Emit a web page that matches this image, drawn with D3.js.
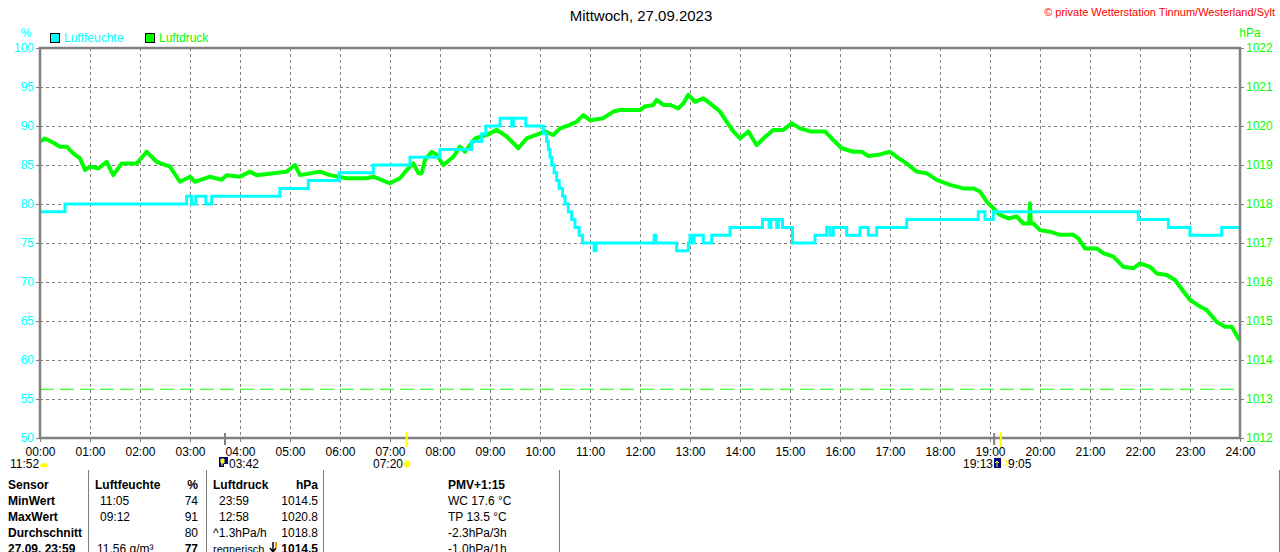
<!DOCTYPE html>
<html lang="de">
	<head>
		<meta charset="utf-8">
		<title>Mittwoch, 27.09.2023</title>
		<script type="text/javascript" src="https://cdn.jsdelivr.net/npm/d3@7"></script>
		<style type="text/css">
			body { margin: 0; background: #fff; }
			svg { display: block; font-family: "Liberation Sans", Arial, sans-serif; }
			.grid line { stroke: #808080; stroke-width: 1; stroke-dasharray: 3,3; }
			.lbl { font-size: 12px; }
			.tbl { font-size: 12px; fill: #000; }
			.b { font-weight: bold; }
		</style>
	</head>
	<body>
		<script type="text/javascript">

			// Luftfeuchte (%), Stufen: Zeitpunkt ab dem der Wert gilt
			var humTimes = ["00:00","00:30","02:56","03:02","03:07","03:19","03:26","04:48","05:22","05:59",
							"06:40","07:24","08:00","08:38","08:50","08:55","09:12","09:26","09:28","09:43",
							"10:04","10:08","10:10","10:12","10:14","10:17","10:20","10:23","10:27","10:30",
							"10:34","10:38","10:42","10:47","10:51","11:05","11:07","12:17","12:19","12:44",
							"12:58","13:00","13:03","13:05","13:16","13:26","13:48","14:27","14:35","14:37",
							"14:44","14:46","14:51","15:03","15:30","15:44","15:48","15:52","16:08","16:24",
							"16:34","16:44","17:20","18:46","18:54","19:04","21:58","22:34","23:00","23:38","24:00"];
			var humValues = [79,80,81,80,81,80,81,82,83,84,
							 85,86,87,88,89,90,91,90,91,90,
							 89,88,87,86,85,84,83,82,81,80,
							 79,78,77,76,75,74,75,76,75,74,
							 75,76,75,76,75,76,77,78,77,78,
							 77,78,77,75,76,77,76,77,76,77,
							 76,77,78,79,78,79,78,77,76,77,77];

			// Luftdruck (hPa)
			var presTimes = ["00:00","00:06","00:16","00:24","00:32","00:40","00:48","00:54","01:00","01:10",
							 "01:20","01:28","01:38","01:56","02:08","02:20","02:36","02:48","03:00","03:06",
							 "03:24","03:38","03:44","04:00","04:12","04:20","04:40","04:56","05:06","05:12",
							 "05:36","05:48","06:08","06:32","06:40","07:00","07:12","07:20","07:28","07:34",
							 "07:38","07:42","07:50","07:56","08:04","08:16","08:24","08:30","08:42","08:56",
							 "09:08","09:20","09:34","09:44","10:00","10:06","10:16","10:24","10:36","10:44",
							 "10:52","11:00","11:16","11:28","11:36","12:00","12:06","12:16","12:20","12:28",
							 "12:36","12:46","12:52","12:58","13:06","13:16","13:24","13:36","13:44","13:52",
							 "14:00","14:10","14:20","14:28","14:40","14:52","15:02","15:12","15:24","15:42",
							 "15:52","16:02","16:16","16:26","16:34","16:46","17:00","17:08","17:20","17:32",
							 "17:44","17:56","18:12","18:28","18:40","18:48","18:56","19:04","19:12","19:22",
							 "19:32","19:40","19:47","19:48","19:49","19:52","20:00","20:12","20:24","20:40",
							 "20:46","20:54","21:08","21:16","21:28","21:40","21:52","22:00","22:12","22:20",
							 "22:32","22:42","22:48","23:00","23:12","23:20","23:32","23:42","23:50","23:58","24:00"];
			var presValues = [1019.60,1019.68,1019.57,1019.47,1019.47,1019.30,1019.17,1018.87,1018.96,1018.91,
							  1019.08,1018.74,1019.04,1019.04,1019.34,1019.08,1018.96,1018.57,1018.70,1018.57,
							  1018.70,1018.62,1018.74,1018.70,1018.83,1018.74,1018.79,1018.83,1019.00,1018.74,
							  1018.83,1018.74,1018.66,1018.66,1018.70,1018.53,1018.66,1018.87,1019.04,1018.79,
							  1018.79,1019.13,1019.34,1019.26,1019.00,1019.21,1019.47,1019.34,1019.68,1019.77,
							  1019.90,1019.73,1019.43,1019.68,1019.81,1019.86,1019.77,1019.94,1020.03,1020.11,
							  1020.28,1020.15,1020.20,1020.37,1020.41,1020.41,1020.50,1020.54,1020.67,1020.54,
							  1020.54,1020.45,1020.58,1020.80,1020.62,1020.71,1020.58,1020.37,1020.11,1019.86,
							  1019.68,1019.86,1019.51,1019.68,1019.90,1019.90,1020.07,1019.94,1019.86,1019.86,
							  1019.64,1019.43,1019.34,1019.34,1019.23,1019.26,1019.34,1019.21,1019.04,1018.83,
							  1018.79,1018.62,1018.49,1018.40,1018.40,1018.32,1018.06,1017.89,1017.72,1017.63,
							  1017.68,1017.50,1017.50,1018.02,1017.50,1017.50,1017.33,1017.29,1017.21,1017.21,
							  1017.12,1016.86,1016.86,1016.74,1016.65,1016.39,1016.35,1016.48,1016.39,1016.22,
							  1016.18,1016.05,1015.88,1015.54,1015.37,1015.28,1014.98,1014.85,1014.85,1014.56,1014.50];

			var normalPressure = 1013.25;

			var hourLabels = ["00:00","01:00","02:00","03:00","04:00","05:00","06:00","07:00","08:00","09:00",
							  "10:00","11:00","12:00","13:00","14:00","15:00","16:00","17:00","18:00","19:00",
							  "20:00","21:00","22:00","23:00","24:00"];
			var humTicks = [50, 55, 60, 65, 70, 75, 80, 85, 90, 95, 100];
			var presTicks = [1012, 1013, 1014, 1015, 1016, 1017, 1018, 1019, 1020, 1021, 1022];

			// Sonne / Mond
			var moonTimes = ["03:42", "19:05"];
			var sunTimes = ["07:20", "19:13"];

			// Tabelle
			var rowLabels = ["Sensor", "MinWert", "MaxWert", "Durchschnitt", "27.09. 23:59"];
			var humCol = ["Luftfeuchte", "11:05", "09:12", "", "11.56 g/m³"];
			var humVals = ["%", "74", "91", "80", "77"];
			var presCol = ["Luftdruck", "23:59", "12:58", "^1.3hPa/h", "regnerisch"];
			var presVals = ["hPa", "1014.5", "1020.8", "1018.8", "1014.5"];
			var extraCol = ["PMV+1:15", "WC 17.6 °C", "TP 13.5 °C", "-2.3hPa/3h", "-1.0hPa/1h"];

			function toHours(t) {
				var p = t.split(":");
				return +p[0] + p[1] / 60;
			}

			var W = 1280, H = 552;
			var plotL = 40, plotR = 1240, plotT = 48, plotB = 438;

			var xScale = d3.scaleLinear().domain([0, 24]).range([plotL, plotR]);
			var yHum = d3.scaleLinear().domain([50, 100]).range([plotB, plotT]);
			var yPres = d3.scaleLinear().domain([1012, 1022]).range([plotB, plotT]);

			var cyan = "#00ffff", green = "#00ff00", grey = "#808080";

			var svg = d3.select("body")
						.append("svg")
						.attr("width", W)
						.attr("height", H);

			// Titel
			svg.append("text")
			   .attr("x", 641).attr("y", 21)
			   .attr("text-anchor", "middle")
			   .attr("font-size", "15px")
			   .text("Mittwoch, 27.09.2023");

			svg.append("text")
			   .attr("x", 1275).attr("y", 16)
			   .attr("text-anchor", "end")
			   .attr("font-size", "11px")
			   .attr("fill", "#ff0000")
			   .text("© private Wetterstation Tinnum/Westerland/Sylt");

			// Einheiten + Legende
			svg.append("text").attr("class", "lbl").attr("x", 26).attr("y", 37)
			   .attr("text-anchor", "middle").attr("fill", cyan).text("%");
			svg.append("text").attr("class", "lbl").attr("x", 1250).attr("y", 37)
			   .attr("text-anchor", "middle").attr("fill", green).text("hPa");

			var legend = [["Luftfeuchte", cyan, 50], ["Luftdruck", green, 145]];
			legend.forEach(function(d) {
				svg.append("rect")
				   .attr("x", d[2] + 0.5).attr("y", 33.5)
				   .attr("width", 9).attr("height", 9)
				   .attr("fill", d[1]).attr("stroke", "#000");
				svg.append("text").attr("class", "lbl")
				   .attr("x", d[2] + 14).attr("y", 42)
				   .attr("fill", d[1]).text(d[0]);
			});

			// Gitter
			var grid = svg.append("g").attr("class", "grid");
			grid.selectAll("line.v")
				.data(d3.range(1, 24))
				.enter().append("line")
				.attr("x1", function(d) { return xScale(d) + 0.5; })
				.attr("x2", function(d) { return xScale(d) + 0.5; })
				.attr("y1", plotT).attr("y2", plotB);
			grid.selectAll("line.h")
				.data(humTicks.slice(1, -1))
				.enter().append("line")
				.attr("x1", plotL).attr("x2", plotR)
				.attr("y1", function(d) { return Math.round(yHum(d)) + 0.5; })
				.attr("y2", function(d) { return Math.round(yHum(d)) + 0.5; });

			// Normaldruck
			svg.append("line")
			   .attr("x1", plotL).attr("x2", plotR)
			   .attr("y1", yPres(normalPressure)).attr("y2", yPres(normalPressure))
			   .attr("stroke", green).attr("stroke-width", 1)
			   .attr("stroke-dasharray", "14,6");

			// Achsen
			var axL = svg.append("g")
						 .attr("transform", "translate(" + plotL + ",0)")
						 .call(d3.axisLeft(yHum).tickValues(humTicks).tickFormat(d3.format("d"))
						 .tickSize(4).tickPadding(2));
			axL.selectAll("text").attr("fill", cyan).attr("font-size", "12px").attr("font-family", null);
			var axR = svg.append("g")
						 .attr("transform", "translate(" + plotR + ",0)")
						 .call(d3.axisRight(yPres).tickValues(presTicks).tickFormat(d3.format("d"))
						 .tickSize(4).tickPadding(2));
			axR.selectAll("text").attr("fill", green).attr("font-size", "12px").attr("font-family", null);
			var axB = svg.append("g")
						 .attr("transform", "translate(0," + plotB + ")")
						 .call(d3.axisBottom(xScale).tickValues(hourLabels.map(toHours))
						 .tickFormat(function(d, i) { return hourLabels[i]; })
						 .tickSize(4).tickPadding(5));
			axB.selectAll("text").attr("fill", "#000").attr("font-size", "12px").attr("font-family", null);
			svg.selectAll(".domain").remove();
			svg.selectAll(".tick line").attr("stroke", grey);

			// Linien
			var presLine = d3.line()
							 .x(function(d, i) { return xScale(toHours(presTimes[i])); })
							 .y(function(d) { return yPres(d); });
			svg.append("path")
			   .attr("d", presLine(presValues))
			   .attr("fill", "none")
			   .attr("stroke", green)
			   .attr("stroke-width", 4)
			   .attr("stroke-linejoin", "round");

			var humLine = d3.line()
							.curve(d3.curveStepAfter)
							.x(function(d, i) { return xScale(toHours(humTimes[i])); })
							.y(function(d) { return yHum(d); });
			svg.append("path")
			   .attr("d", humLine(humValues))
			   .attr("fill", "none")
			   .attr("stroke", cyan)
			   .attr("stroke-width", 3);

			// Rahmen
			svg.append("rect")
			   .attr("x", plotL).attr("y", plotT)
			   .attr("width", plotR - plotL).attr("height", plotB - plotT)
			   .attr("fill", "none")
			   .attr("stroke", grey)
			   .attr("stroke-width", 2.5);

			// Sonne / Mond Markierungen
			svg.selectAll("line.moon")
			   .data(moonTimes).enter().append("line")
			   .attr("x1", function(d) { return xScale(toHours(d)); })
			   .attr("x2", function(d) { return xScale(toHours(d)); })
			   .attr("y1", 433).attr("y2", 445)
			   .attr("stroke", grey).attr("stroke-width", 2);
			svg.selectAll("line.sun")
			   .data(sunTimes).enter().append("line")
			   .attr("x1", function(d) { return xScale(toHours(d)); })
			   .attr("x2", function(d) { return xScale(toHours(d)); })
			   .attr("y1", 432).attr("y2", 447)
			   .attr("stroke", "#ffff00").attr("stroke-width", 2);

			var evTxt = svg.append("g").attr("font-size", "12px");
			// Mond-Kulmination
			evTxt.append("text").attr("x", 10).attr("y", 468).text("11:52");
			svg.append("path")
			   .attr("d", "M40,467 a4,4 0 0 1 8,0 z")
			   .attr("fill", "#ffff00");
			// Mondaufgang
			svg.append("rect").attr("x", 219).attr("y", 457).attr("width", 9).attr("height", 10).attr("fill", "#000080");
			svg.append("path").attr("d", "M221,459 h3 v4 h-3 z M222,463 v3").attr("fill", "#ffff00").attr("stroke", "#ffff00");
			svg.append("rect").attr("x", 224).attr("y", 464).attr("width", 4).attr("height", 3).attr("fill", "#ffffff");
			evTxt.append("text").attr("x", 229).attr("y", 468).text(moonTimes[0]);
			// Sonnenaufgang
			evTxt.append("text").attr("x", 373).attr("y", 468).text(sunTimes[0]);
			svg.append("circle").attr("cx", 407).attr("cy", 464).attr("r", 3.5).attr("fill", "#ffff00");
			// Sonnenuntergang / Monduntergang
			evTxt.append("text").attr("x", 993).attr("y", 468).attr("text-anchor", "end").text(sunTimes[1]);
			svg.append("rect").attr("x", 994).attr("y", 458).attr("width", 7).attr("height", 10).attr("fill", "#000080");
			svg.append("path").attr("d", "M997,467 v-5 M995,463 l2,-2 l2,2").attr("fill", "none").attr("stroke", "#ffff00");
			svg.append("rect").attr("x", 1001.5).attr("y", 460.5).attr("width", 5).attr("height", 5)
			   .attr("fill", "none").attr("stroke", "#ffff66");
			evTxt.append("text").attr("x", 1008).attr("y", 468).text(moonTimes[1].slice(1));

			// Tabelle
			var sepX = [88.5, 206.5, 323.5, 559.5, 1279.5];
			svg.selectAll("line.sep")
			   .data(sepX).enter().append("line")
			   .attr("x1", function(d) { return d; }).attr("x2", function(d) { return d; })
			   .attr("y1", 470).attr("y2", H)
			   .attr("stroke", grey).attr("stroke-width", 1);

			var rowY = function(i) { return 489 + i * 16; };
			var tbl = svg.append("g").attr("class", "tbl");

			tbl.selectAll("text.r").data(rowLabels).enter().append("text")
			   .attr("class", "b").attr("x", 8).attr("y", function(d, i) { return rowY(i); })
			   .text(function(d) { return d; });

			tbl.selectAll("text.hc").data(humCol).enter().append("text")
			   .attr("class", function(d, i) { return i === 0 ? "b" : null; })
			   .attr("x", function(d, i) { return i === 0 ? 95 : (i === 4 ? 97 : 100); })
			   .attr("y", function(d, i) { return rowY(i); })
			   .text(function(d) { return d; });
			tbl.selectAll("text.hv").data(humVals).enter().append("text")
			   .attr("class", function(d, i) { return (i === 0 || i === 4) ? "b" : null; })
			   .attr("x", 198).attr("text-anchor", "end")
			   .attr("y", function(d, i) { return rowY(i); })
			   .text(function(d) { return d; });

			tbl.selectAll("text.pc").data(presCol).enter().append("text")
			   .attr("class", function(d, i) { return i === 0 ? "b" : null; })
			   .attr("x", function(d, i) { return (i === 1 || i === 2) ? 219 : 213; })
			   .attr("y", function(d, i) { return rowY(i); })
			   .attr("font-size", function(d, i) { return i === 4 ? "11px" : null; })
			   .text(function(d) { return d; });
			tbl.selectAll("text.pv").data(presVals).enter().append("text")
			   .attr("class", function(d, i) { return (i === 0 || i === 4) ? "b" : null; })
			   .attr("x", 318).attr("text-anchor", "end")
			   .attr("y", function(d, i) { return rowY(i); })
			   .text(function(d) { return d; });
			// Tendenzpfeil
			svg.append("path")
			   .attr("d", "M273,542 v9 M270,548 l3,4 l3,-4")
			   .attr("fill", "none").attr("stroke", "#000").attr("stroke-width", 1.5);
			svg.append("rect").attr("x", 275).attr("y", 542).attr("width", 2).attr("height", 6).attr("fill", "#ff9900");

			tbl.selectAll("text.ex").data(extraCol).enter().append("text")
			   .attr("class", function(d, i) { return i === 0 ? "b" : null; })
			   .attr("x", 448)
			   .attr("y", function(d, i) { return rowY(i); })
			   .text(function(d) { return d; });

		</script>
	</body>
</html>
